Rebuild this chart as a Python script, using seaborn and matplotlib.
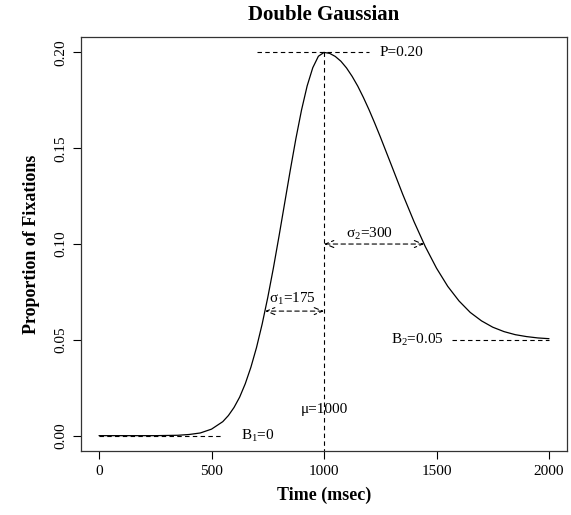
import numpy as np
import pandas as pd
import matplotlib
matplotlib.use('Agg')
import matplotlib.pyplot as plt
import seaborn as sns

# curve (msec, proportion)
time_ms = [0, 50, 100, 150, 200, 250, 300, 350, 400, 450, 500, 550, 575, 600, 625,
           650, 675, 700, 725, 750, 775, 800, 825, 850, 875, 900, 925, 950, 975,
           1000, 1025, 1050, 1075, 1100, 1125, 1150, 1175, 1200, 1225, 1250, 1300,
           1350, 1400, 1450, 1500, 1550, 1600, 1650, 1700, 1750, 1800, 1850, 1900,
           1950, 2000]
prop_fix = [0.0, 0.0, 0.0, 0.0, 0.0, 0.0, 0.0001, 0.0002, 0.0006, 0.0014, 0.0034,
            0.0073, 0.0105, 0.0147, 0.0201, 0.0271, 0.0357, 0.0460, 0.0582, 0.0721,
            0.0875, 0.1041, 0.1213, 0.1385, 0.1550, 0.1699, 0.1825, 0.1920, 0.1980,
            0.2000, 0.1995, 0.1979, 0.1954, 0.1919, 0.1875, 0.1824, 0.1765, 0.1701,
            0.1632, 0.1560, 0.1410, 0.1259, 0.1117, 0.0987, 0.0874, 0.0779, 0.0703,
            0.0643, 0.0599, 0.0566, 0.0543, 0.0527, 0.0517, 0.0510, 0.0506]

# parameter annotations
mu = 1000
peak = 0.20
b1 = 0.0
b2 = 0.05
sig1_y, sig1_left = 0.065, 738
sig2_y, sig2_right = 0.10, 1445

df = pd.DataFrame({'time': time_ms, 'prop': prop_fix})

sns.set_style('ticks')
plt.rcParams['font.family'] = ['Liberation Serif', 'DejaVu Serif']
plt.rcParams['mathtext.fontset'] = 'custom'
plt.rcParams['mathtext.rm'] = 'Liberation Serif'
plt.rcParams['mathtext.it'] = 'Liberation Serif'
plt.rcParams['text.color'] = 'black'
plt.rcParams['axes.labelcolor'] = 'black'
plt.rcParams['xtick.color'] = 'black'
plt.rcParams['ytick.color'] = 'black'

fig = plt.figure(figsize=(5.71, 5.15), dpi=100)
ax = fig.add_axes([0.1419, 0.1243, 0.8511, 0.8037])

sns.lineplot(data=df, x='time', y='prop', color='black', lw=0.9, ax=ax)

dash = dict(color='black', lw=0.8, ls=(0, (4, 3)))
ax.plot([700, 1200], [peak, peak], **dash)
ax.plot([mu, mu], [peak, -0.01], **dash)
ax.plot([1570, 2000], [b2, b2], **dash)
ax.plot([0, 550], [b1, b1], **dash)

arr = dict(arrowstyle='<->,head_length=0.6,head_width=0.25', color='black',
           lw=0.8, ls=(0, (4, 3)), shrinkA=0, shrinkB=0)
ax.annotate('', xy=(sig1_left, sig1_y), xytext=(mu, sig1_y), arrowprops=arr)
ax.annotate('', xy=(sig2_right, sig2_y), xytext=(mu, sig2_y), arrowprops=arr)

fs = 11
ax.text(1245, peak, 'P=0.20', fontsize=fs, va='center', ha='left')
ax.text(1200, 0.1055, 'σ$_{2}$=300', fontsize=fs, ha='center', va='center')
ax.text(860, 0.0715, 'σ$_{1}$=175', fontsize=fs, ha='center', va='center')
ax.text(1530, b2, 'B$_{2}$=0.05', fontsize=fs, ha='right', va='center')
ax.text(630, b1, 'B$_{1}$=0', fontsize=fs, ha='left', va='center')
ax.text(mu, 0.0135, 'μ=1000', fontsize=fs, ha='center', va='center')

ax.set_xlim(-80, 2080)
ax.set_ylim(-0.008, 0.208)
ax.set_xticks([0, 500, 1000, 1500, 2000])
ax.set_yticks([0.00, 0.05, 0.10, 0.15, 0.20])
ax.set_yticklabels(['0.00', '0.05', '0.10', '0.15', '0.20'], rotation=90, va='center')
ax.tick_params(labelsize=11, length=6, width=0.8, pad=4)
for s in ax.spines.values():
    s.set_linewidth(0.9)
    s.set_color('#333333')

ax.set_xlabel('Time (msec)', fontsize=13, fontweight='bold', labelpad=6)
ax.set_ylabel('Proportion of Fixations', fontsize=13, fontweight='bold', labelpad=10)
ax.set_title('Double Gaussian', fontsize=15, fontweight='bold', pad=12)

fig.savefig('out.png', dpi=100)
